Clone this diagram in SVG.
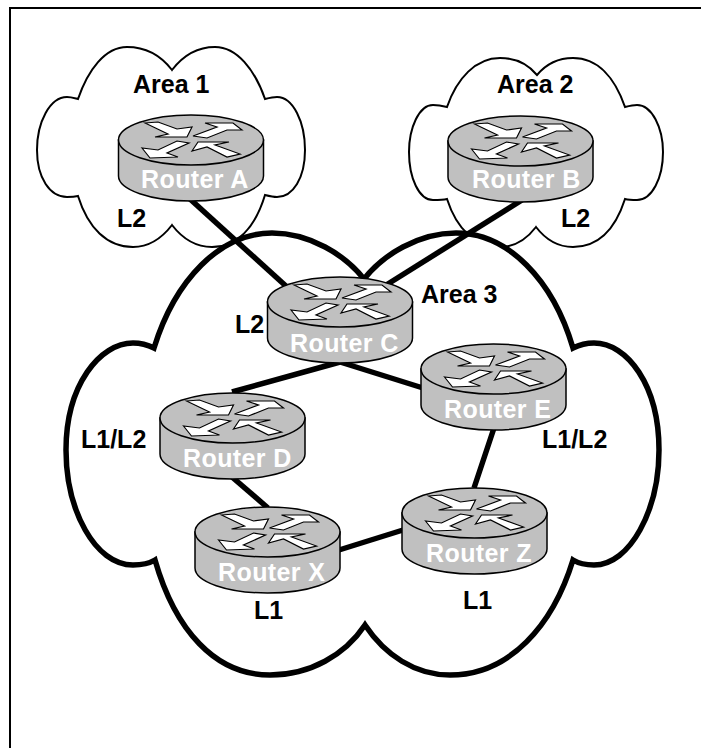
<svg xmlns="http://www.w3.org/2000/svg" width="701" height="748" viewBox="0 0 701 748">
<style>
.cloud{fill:none;stroke:#000;stroke-width:2}
.big{fill:#fff;stroke:#000;stroke-width:5.500}
.link{stroke:#000;stroke-width:5.500;fill:none}
.body{fill:#c0c0c0;stroke:#000;stroke-width:1.500}
.arw{fill:#fff;stroke:#000;stroke-width:1.200}
.lab{font-family:"Liberation Sans",Arial,sans-serif;font-weight:bold;font-size:25px;fill:#000}
.rt{font-family:"Liberation Sans",Arial,sans-serif;font-weight:bold;font-size:25px;fill:#fff;letter-spacing:.4px}
</style>
<defs>
<g id="router">
<path class="body" d="M-72.500 0V36A72.500 25 0 0 0 72.500 36V0Z"/>
<ellipse class="body" cx="0" cy="0" rx="72.500" ry="25"/>
<path class="arw" d="M-46-17L-33-18L-14-11L1-13L-4-3L-36-3L-23-6Z"/>
<path class="arw" d="M51-10L42-17L14-17L26-13L2-4L16-2L36-10Z"/>
<path class="arw" d="M-49 8L-41 18L-13 17L-24 13L-2 3L-14 1L-33 10Z"/>
<path class="arw" d="M1 11L7 2L38 2L24 5L49 14L36 17L16 7Z"/>
</g>
</defs>
<rect id="frame" x="10" y="8" width="700" height="760" fill="none" stroke="#000" stroke-width="2"/>
<g id="area1"><path class="cloud" d="M78 99C88 70 105 47 127 47C147 47 162 57 172 70C182 57 195 47 215 47C237 47 255 70 265 99C269 98 273 97 277 97C293 97 305 122 305 150C305 178 293 197 277 197C273 197 269 196 265 195C255 228 237 247 212 247C195 247 182 238 172 225C162 238 150 247 133 247C107 247 88 228 78 196C74 197 71 197 67 197C50 197 37 178 37 150C37 122 50 97 67 97C71 97 74 98 78 99Z"/><text class="lab" x="133" y="93">Area 1</text><text class="lab" x="117" y="227">L2</text></g>
<g id="area2"><path class="cloud" d="M447 107C457 78 476 58 500 58C515 58 527 63 537 75C547 63 558 58 573 58C598 58 615 78 625 107C629 106 633 105 637 105C652 105 663 128 663 152C663 178 652 200 637 200C633 200 629 200 625 199C615 230 598 247 573 247C558 247 546 240 536 227C526 240 515 247 500 247C476 247 457 230 447 199C443 200 438 200 433 200C419 200 409 178 409 152C409 128 419 105 433 105C438 105 443 106 447 107Z"/><text class="lab" x="497" y="93">Area 2</text><text class="lab" x="561" y="227">L2</text></g>
<g id="area3"><path class="big" d="M154 348C175 280 220 233 272 233C310 233 345 255 364 279C383 255 418 233 456 233C508 233 553 280 573 348C579 345 584 343 594 343C627 343 659 385 659 450C659 510 630 565 594 565C585 565 578 563 573 560C553 625 510 675 450 675C415 675 385 655 365 625C345 655 310 675 270 675C215 675 175 630 155 560C150 563 142 565 133 565C95 565 66 510 66 450C66 385 100 343 133 343C143 343 148 345 154 348Z"/><text class="lab" x="421" y="303">Area 3</text></g>
<g id="connectors">
<path class="link" d="M190 199L287 287"/>
<path class="link" d="M522 200L383 287"/>
<path class="link" d="M340 362L232 392"/>
<path class="link" d="M340 362L423 388"/>
<path class="link" d="M232 477L268 508"/>
<path class="link" d="M339 550L403 530"/>
<path class="link" d="M494 428L474 488"/>
</g>
<g id="routerA"><use href="#router" x="191" y="140"/><text class="rt" x="141" y="188">Router A</text></g>
<g id="routerB"><use href="#router" x="520.500" y="141"/><text class="rt" x="472" y="188">Router B</text></g>
<g id="routerC"><use href="#router" x="340" y="302"/><text class="rt" x="290" y="352">Router C</text></g>
<g id="routerD"><use href="#router" x="232.500" y="418"/><text class="rt" x="183" y="467">Router D</text></g>
<g id="routerE"><use href="#router" x="493.500" y="369"/><text class="rt" x="444" y="418">Router E</text></g>
<g id="routerX"><use href="#router" x="267.500" y="532"/><text class="rt" x="218" y="581">Router X</text></g>
<g id="routerZ"><use href="#router" x="474.500" y="513"/><text class="rt" x="426" y="562">Router Z</text></g>
<g id="labels">
<text class="lab" x="235" y="333">L2</text>
<text class="lab" x="81" y="448">L1/L2</text>
<text class="lab" x="542" y="448">L1/L2</text>
<text class="lab" x="254" y="619">L1</text>
<text class="lab" x="463" y="609">L1</text>
</g>
</svg>
